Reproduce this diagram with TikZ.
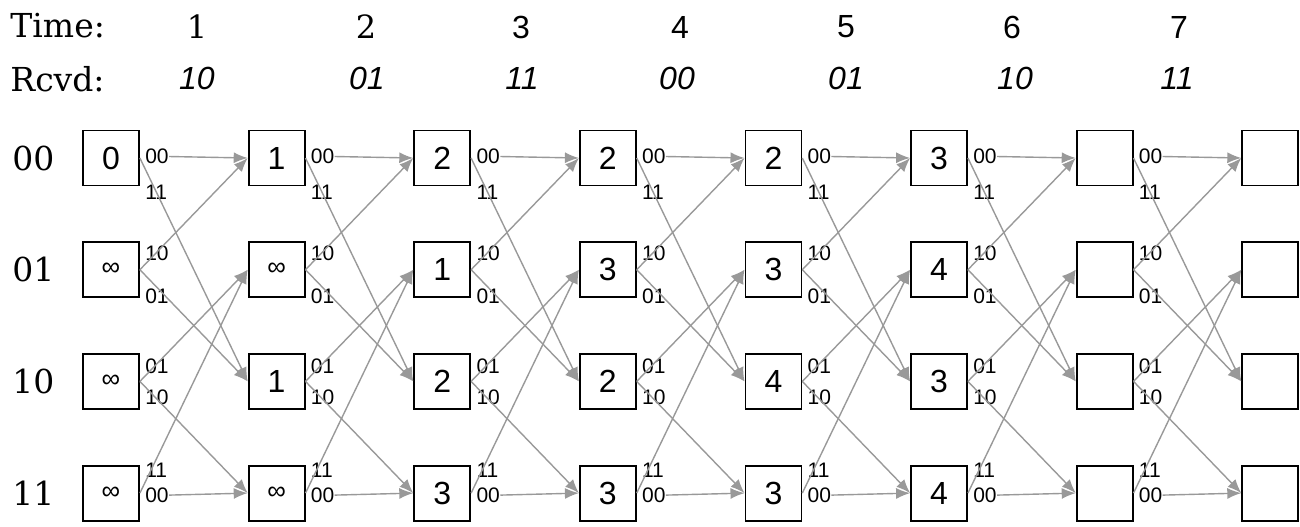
\documentclass[tikz,border=0pt]{standalone}
\usepackage{fontspec}
\setmainfont{DejaVu Serif}
\setsansfont{Liberation Sans}
\usepackage{tikz}
\usetikzlibrary{arrows.meta}

\newcommand{\infbox}{{\fontsize{13}{13}\selectfont ∞}}

\begin{document}
\begin{tikzpicture}[
    x=0.5pt, y=-0.5pt,
    state/.style={draw, line width=0.9pt, minimum width=28pt, minimum height=27.5pt, inner sep=0pt, font=\sffamily\fontsize{16}{16}\selectfont},
    rowlab/.style={anchor=west, inner sep=0pt, font=\fontsize{16.5}{16.5}\selectfont},
    head/.style={anchor=west, inner sep=0pt, font=\fontsize{16.5}{16.5}\selectfont},
    tnum/.style={inner sep=0pt, font=\fontsize{16}{16}\selectfont},
    rcvd/.style={inner sep=0pt, font=\sffamily\itshape\fontsize{16}{16}\selectfont},
    bits/.style={anchor=west, inner sep=0pt, font=\sffamily\fontsize{10.5}{10.5}\selectfont},
    branch/.style={draw=gray!80, line width=0.7pt, -{Latex[length=7pt,width=5.5pt]}}
]
\useasboundingbox (0,0) rectangle (1300,526);

\node[head] (time) at (10,26) {Time:};
\node[head] (rcvd) at (10,79) {Rcvd:};
\foreach \n/\xt/\xr/\rx/\fam in {1/197/197/10/\rmfamily, 2/366/367/01/\rmfamily, 3/521/522/11/\sffamily,
    4/680/677/00/\sffamily, 5/846/846/01/\sffamily, 6/1012/1015/10/\sffamily, 7/1179/1177/11/\sffamily} {
    \node[tnum] (t\n) at (\xt,27) {\fam\n};
    \node[rcvd] (r\n) at (\xr,78) {\rx};
}

\foreach \lab [count=\r from 0] in {00,01,10,11}
    \node[rowlab] (row\r) at (12,158+111.7*\r) {\lab};

\foreach \c/\va/\vb/\vc/\vd in {0/0/\infbox/\infbox/\infbox, 1/1/\infbox/1/\infbox, 2/2/1/2/3, 3/2/3/2/3,
    4/2/3/4/3, 5/3/4/3/4, 6/{}/{}/{}/{}, 7/{}/{}/{}/{}} {
    \foreach \v [count=\r from 0] in {\va,\vb,\vc,\vd}
        \node[state] (s\c\r) at (111+165.6*\c,158+111.7*\r) {\v};
}

\foreach \c [evaluate=\c as \n using int(\c+1)] in {0,...,6} {
    \foreach \r/\up/\dn/\dup/\ddn in {0/00/11/-1.5/34, 1/10/01/-16.5/27, 2/01/10/-15/16, 3/11/00/-23/2} {
        \node[bits] (u\c\r) at ([xshift=2.5pt,yshift={-(\dup)*0.5pt}]s\c\r.east) {\up};
        \node[bits] (d\c\r) at ([xshift=2.5pt,yshift={-(\ddn)*0.5pt}]s\c\r.east) {\dn};
    }
    \draw[branch] (u\c0.east) -- (s\n0.west);
    \draw[branch] (s\c0.east) -- (s\n2.west);
    \draw[branch] (s\c1.east) -- (s\n0.west);
    \draw[branch] (s\c1.east) -- (s\n2.west);
    \draw[branch] (s\c2.east) -- (s\n1.west);
    \draw[branch] (s\c2.east) -- (s\n3.west);
    \draw[branch] (s\c3.east) -- (s\n1.west);
    \draw[branch] (d\c3.east) -- (s\n3.west);
}
\end{tikzpicture}
\end{document}
